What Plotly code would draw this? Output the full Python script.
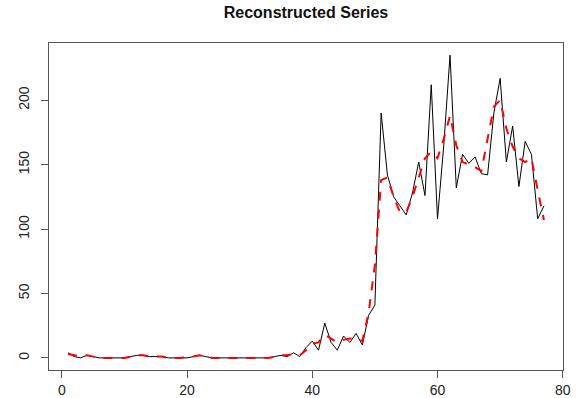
import plotly.graph_objects as go

x_index = list(range(1, 78))

original = [4, 1, 0, 2, 1, 0, 0, 0, 0, 0,
            1, 2, 2, 1, 1, 1, 0, 0, 0, 0,
            1, 2, 1, 0, 0, 0, 0, 0, 0, 0,
            0, 0, 0, 1, 2, 1, 4, 1, 8, 13,
            6, 27, 12, 6, 17, 12, 19, 10, 33, 41,
            190, 142, 125, 118, 111, 128, 152, 126, 212, 108,
            165, 235, 132, 158, 151, 156, 143, 142, 190, 217,
            152, 180, 133, 168, 158, 108, 118]

reconstructed = [3, 2, 1, 2, 1, 0, 0, 0, 0, 0,
                 1, 2, 2, 1, 1, 1, 0, 0, 0, 1,
                 1, 2, 1, 0, 0, 0, 0, 0, 0, 0,
                 0, 0, 0, 1, 2, 2, 3, 2, 6, 11,
                 12, 18, 15, 12, 14, 15, 15, 13, 35, 72,
                 138, 140, 125, 113, 113, 125, 140, 155, 160, 155,
                 170, 188, 165, 152, 150, 148, 145, 170, 195, 200,
                 178, 164, 155, 152, 155, 130, 107]

x_ticks = [0, 20, 40, 60, 80]
y_ticks = [0, 50, 100, 150, 200]

fig = go.Figure()
fig.add_trace(go.Scatter(x=x_index, y=original, mode="lines",
                         line=dict(color="black", width=1), showlegend=False))
fig.add_trace(go.Scatter(x=x_index, y=reconstructed, mode="lines",
                         line=dict(color="red", width=2, dash="dash"), showlegend=False))

axis_font = dict(family="Liberation Sans, Arial, sans-serif", size=14, color="#222")
fig.update_layout(
    width=578, height=398,
    margin=dict(l=49, r=15, t=43, b=28),
    paper_bgcolor="white", plot_bgcolor="white",
    title=dict(text="<b>Reconstructed Series</b>", x=0.5, xref="paper", xanchor="center",
               y=0.982, yanchor="top",
               font=dict(family="Liberation Sans, Arial, sans-serif", size=16, color="#111")),
    xaxis=dict(range=[-2.04, 80.04], tickvals=x_ticks, showgrid=False, zeroline=False,
               showline=True, mirror=True, linecolor="#555", linewidth=1, automargin=False,
               ticks="outside", ticklen=7, tickcolor="#555", tickfont=axis_font),
    yaxis=dict(range=[-9.4, 244.4], tickvals=y_ticks, showgrid=False, zeroline=False,
               showline=True, mirror=True, linecolor="#555", linewidth=1, automargin=False,
               ticks="outside", ticklen=7, tickcolor="#555", tickfont=axis_font,
               tickangle=-90, ticklabelstandoff=6),
)

fig.write_html("out.html")
